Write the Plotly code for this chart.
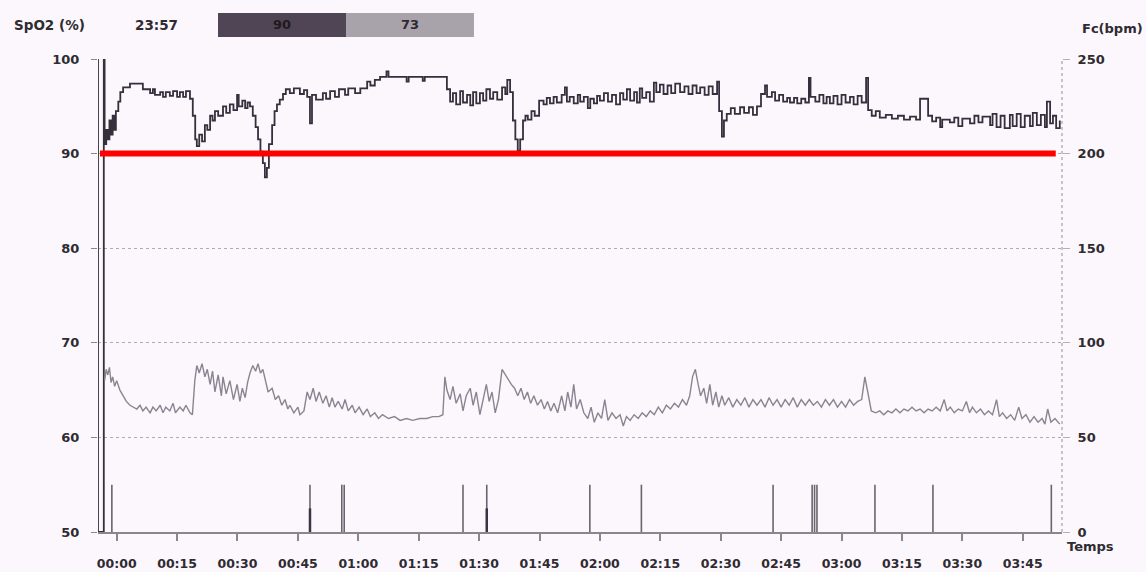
import plotly.graph_objects as go

# ---------------- data (time in minutes from 00:00) ----------------
spo2_t = [-4.64, -4.64, -3.2, -3.2, -3.0, -2.6, -2.2, -1.8, -1.4, -1.0, -0.6, -0.2, 0.4, 0.9, 1.6, 3.3, 5.8, 6.5,
          8.3, 9.0, 9.5, 10.8, 11.5, 12.2, 13.2, 14.0, 15.0, 15.7, 16.5, 17.2, 18.2, 18.9, 19.5, 19.9, 20.5, 21.2,
          21.9, 22.5, 23.2, 23.8, 24.4, 25.2, 26.4, 27.2, 28.1, 29.0, 29.9, 30.3, 31.2, 31.9, 32.5, 33.1, 33.8,
          34.5, 35.1, 35.7, 36.3, 36.8, 37.3, 37.8, 38.6, 39.2, 39.8, 40.5, 41.3, 42.0, 43.0, 44.0, 45.5, 46.5,
          47.3, 48.0, 48.5, 49.5, 51.2, 52.0, 53.0, 54.2, 55.2, 56.7, 57.5, 59.2, 60.5, 62.2, 63.0, 64.1, 65.4,
          67.0, 67.5, 70.4, 72.0, 72.5, 75.3, 76.0, 76.5, 81.0, 82.0, 82.8, 83.5, 84.3, 85.3, 86.0, 87.0, 87.8,
          88.5, 89.3, 90.2, 91.0, 91.8, 92.7, 93.5, 94.5, 95.7, 96.5, 97.0, 97.7, 98.4, 99.0, 99.6, 100.2, 100.9,
          101.5, 102.1, 103.0, 103.8, 104.9, 106.0, 106.8, 107.6, 108.5, 109.3, 110.5, 111.3, 111.8, 112.5, 113.5,
          114.5, 115.1, 116.0, 117.0, 117.6, 118.5, 119.3, 120.0, 121.0, 122.0, 123.0, 124.0, 125.0, 125.8, 126.7,
          127.5, 128.5, 129.2, 129.9, 130.5, 131.5, 132.4, 133.4, 134.0, 134.9, 135.8, 136.8, 137.7, 138.7, 139.9,
          141.0, 142.0, 143.0, 144.0, 144.9, 146.0, 147.0, 148.0, 149.1, 149.6, 150.3, 150.8, 151.5, 152.5, 153.5,
          154.8, 155.8, 157.0, 158.0, 159.0, 160.0, 161.0, 161.5, 162.7, 163.5, 164.5, 165.5, 166.5, 167.2, 168.2,
          169.0, 170.0, 171.0, 171.9, 172.3, 173.5, 174.5, 175.5, 176.3, 177.1, 178.0, 179.0, 180.0, 181.0, 182.1,
          183.0, 184.0, 185.0, 186.1, 186.6, 187.5, 188.5, 189.5, 191.0, 192.5, 194.0, 195.5, 197.0, 198.5, 199.5,
          201.5, 202.5, 203.5, 204.5, 205.0, 206.9, 208.0, 209.0, 210.0, 211.9, 213.0, 214.0, 215.0, 216.9, 217.5,
          218.5, 219.5, 220.5, 221.8, 222.5, 223.5, 224.5, 225.5, 226.8, 227.5, 228.5, 229.5, 230.5, 231.0, 231.8,
          232.5, 233.3, 234.2]
spo2_v = [100, 50, 50, 100, 91, 92.5, 91.5, 93.5, 92, 94, 92.5, 94.5, 95.5, 96.5, 97, 97.4, 97.4, 96.8,
          96.4, 96.8, 96.2, 96.5, 96.0, 96.5, 96.1, 96.6, 96.0, 96.5, 96.0, 96.6, 95.8, 94.0, 91.5, 90.8, 92.0, 91.3,
          93.0, 92.5, 94.0, 93.5, 94.5, 94.0, 95.0, 94.3, 95.2, 94.6, 96.2, 95.0, 95.6, 94.8, 95.4, 95.0, 94.0,
          92.8, 91.5, 90.2, 89.0, 87.5, 88.5, 91.0, 93.0, 94.5, 95.2, 95.7, 96.3, 96.8, 96.4, 96.9, 96.3, 96.7,
          96.0, 93.2, 96.2, 95.7, 96.4, 95.8, 96.6, 96.0, 96.8, 96.2, 96.9, 96.4, 96.9, 97.6, 97.2, 97.8, 98.1,
          98.7, 98.1, 98.1, 97.6, 98.1, 98.1, 97.7, 98.1, 98.1, 96.8, 95.5, 96.4, 95.2, 96.6, 95.4, 96.2, 95.1,
          96.5, 95.3, 96.4, 95.6, 96.8, 95.8, 96.5, 95.7, 97.0, 96.3, 97.8, 96.5, 93.5, 91.5, 90.3, 91.5, 93.5,
          94.0, 93.6, 94.5, 94.0, 95.6, 95.2, 95.9, 95.3, 96.0, 95.4, 96.2, 97.0, 95.5, 96.0, 95.3,
          96.2, 95.5, 96.0, 94.8, 95.8, 95.3, 96.1, 95.6, 96.4, 95.5, 96.2, 95.2, 96.4, 95.7, 96.8,
          95.6, 96.5, 95.4, 96.9, 95.9, 96.5, 95.5, 97.5, 96.5, 97.3, 96.3, 97.2, 96.4, 97.4, 96.5,
          97.1, 96.3, 97.2, 96.4, 97.0, 96.2, 97.1, 96.3, 97.6, 94.5, 91.8, 93.5, 94.2, 94.8, 94.2,
          94.9, 94.3, 94.9, 94.1, 95.0, 96.3, 97.2, 96.0, 96.5, 95.6, 96.2, 95.5, 95.9, 95.4, 95.9,
          95.3, 95.8, 95.4, 98.0, 96.0, 95.5, 96.2, 95.3, 96.0, 95.3, 96.1, 95.2, 96.2, 95.4, 96.0,
          95.2, 96.1, 95.4, 98.0, 94.6, 94.0, 94.5, 93.8, 94.1, 93.7, 94.0, 93.6, 93.9, 93.6, 95.8,
          94.0, 93.4, 93.8, 92.8, 93.6, 93.3, 93.8, 92.9, 93.7, 93.2, 94.0, 93.3, 93.9, 93.0, 94.2,
          92.8, 94.0, 92.7, 94.1, 92.9, 94.2, 92.8, 94.0, 92.9, 94.3, 93.0, 94.1, 92.8, 95.5, 93.2,
          94.0, 92.7, 93.5]

hr_t = [-3.0, -2.6, -2.2, -1.8, -1.4, -1.0, -0.5, 0.0, 0.8, 1.6, 2.4, 3.3, 4.0, 5.0, 5.8, 6.5, 7.3, 8.3, 9.0,
        9.8, 10.8, 11.5, 12.2, 13.2, 14.0, 14.6, 15.7, 16.5, 17.2, 18.2, 18.8, 19.4, 19.9, 20.5, 21.2, 21.9,
        22.5, 23.2, 23.8, 24.4, 25.2, 26.0, 26.4, 27.2, 28.1, 29.0, 29.9, 30.6, 31.2, 31.9, 32.5, 33.1, 33.8,
        34.5, 35.1, 35.7, 36.3, 37.0, 37.6, 38.6, 39.4, 40.2, 41.0, 41.8, 42.5, 43.0, 44.0, 45.0, 45.5, 46.5,
        47.3, 48.0, 48.8, 49.5, 50.3, 51.2, 52.0, 52.8, 53.5, 54.2, 55.0, 56.0, 56.7, 57.5, 58.5, 59.2, 60.2,
        61.2, 62.2, 63.0, 64.1, 65.0, 66.0, 67.5, 69.0, 70.4, 72.0, 73.5, 75.3, 77.0, 78.5, 80.0, 81.0, 81.5,
        82.0, 82.8, 83.5, 84.3, 85.3, 86.0, 86.8, 87.8, 88.5, 89.3, 90.2, 91.0, 91.8, 92.5, 93.2, 94.0, 94.8,
        95.7, 96.5, 97.3, 98.0, 98.8, 99.6, 100.4, 101.2, 102.0, 102.8, 103.6, 104.5, 105.4, 106.2, 107.0,
        107.8, 108.6, 109.5, 110.5, 111.3, 112.0, 112.8, 113.5, 114.2, 115.1, 116.0, 117.0, 117.8, 118.6,
        119.5, 120.4, 121.2, 122.0, 123.0, 124.0, 125.0, 125.8, 126.6, 127.5, 128.5, 129.5, 130.5, 131.5,
        132.5, 133.5, 134.5, 135.5, 136.5, 137.5, 138.5, 139.5, 140.5, 141.5, 142.3, 143.0, 143.7, 144.4,
        145.0, 145.8, 146.5, 147.3, 148.0, 148.8, 149.5, 150.3, 151.0, 152.0, 153.0, 154.0, 155.0, 156.0,
        157.0, 158.0, 159.0, 160.0, 161.0, 162.0, 163.0, 164.0, 165.0, 166.0, 167.0, 168.0, 169.0, 170.0,
        171.0, 172.0, 173.0, 174.0, 175.0, 176.0, 177.0, 178.0, 179.0, 180.0, 181.0, 182.0, 183.0, 184.0,
        185.0, 185.8, 186.6, 187.4, 188.5, 189.5, 190.5, 191.5, 192.5, 193.5, 194.5, 195.5, 196.5, 197.5,
        198.5, 199.5, 200.5, 201.5, 202.5, 203.5, 204.5, 205.5, 206.2, 207.0, 208.0, 209.0, 210.0, 211.0,
        211.8, 212.5, 213.5, 214.5, 215.5, 216.5, 217.5, 218.5, 219.2, 220.0, 221.0, 222.0, 223.0, 224.0,
        224.8, 225.8, 226.8, 227.8, 228.8, 229.8, 230.5, 231.2, 232.0, 233.0, 234.2]
hr_v = [80, 86, 83, 87, 79, 82, 77, 80, 75, 72, 69, 67, 66, 65, 67, 64, 66, 63, 66,
        64, 67, 63, 66, 64, 68, 63, 66, 64, 67, 63, 62, 80, 88, 84, 89, 82,
        86, 78, 85, 74, 83, 72, 82, 73, 80, 70, 78, 69, 76, 71, 79, 84, 88,
        85, 89, 84, 86, 79, 74, 76, 70, 72, 67, 70, 65, 67, 63, 66, 62, 64,
        74, 70, 76, 69, 74, 68, 72, 66, 71, 66, 69, 65, 70, 64, 67, 63, 66,
        62, 65, 61, 63, 60, 62, 60, 61, 59, 60, 59, 60, 60, 61, 61, 62, 82,
        75, 70, 77, 68, 73, 64, 72, 76, 67, 74, 62, 70, 78, 69, 74, 63, 70,
        86, 83, 80, 78, 76, 72, 76, 70, 74, 68, 72, 67, 70, 65, 69,
        64, 68, 63, 72, 64, 74, 66, 78, 65, 70, 63, 60, 66, 58,
        63, 60, 70, 59, 63, 60, 62, 56, 61, 59, 62, 60, 63, 61,
        64, 62, 66, 63, 67, 65, 68, 66, 70, 67, 72, 82, 86, 78,
        72, 76, 68, 78, 67, 74, 66, 72, 67, 71, 66, 70, 67, 71,
        66, 70, 67, 70, 66, 71, 67, 70, 66, 70, 67, 71, 66, 70,
        67, 70, 67, 69, 66, 70, 67, 70, 66, 69, 66, 70, 67, 69,
        70, 82, 72, 64, 63, 64, 62, 64, 63, 65, 63, 65, 64, 66,
        64, 65, 63, 65, 64, 66, 64, 70, 64, 66, 63, 65, 64, 69,
        63, 66, 63, 65, 62, 64, 62, 70, 61, 63, 60, 62, 59, 66,
        60, 62, 58, 61, 58, 60, 57, 65, 58, 60, 57]

event_times = [-1.2, 48.0, 55.9, 56.5, 86.0, 91.9, 117.5, 130.3, 163.0, 172.7, 173.3, 173.9, 188.3, 202.7, 232.1]
event_levels = [55.0, 55.0, 55.0, 55.0, 55.0, 55.0, 55.0, 55.0, 55.0, 55.0, 55.0, 55.0, 55.0, 55.0, 55.0]
event_strong_times = [48.0, 91.9]
event_strong_levels = [52.5, 52.5]

threshold_level = 90
threshold_span = [-4.15, 233.2]

tick_minutes = [0, 15, 30, 45, 60, 75, 90, 105, 120, 135, 150, 165, 180, 195, 210, 225]
tick_labels = ["00:00", "00:15", "00:30", "00:45", "01:00", "01:15", "01:30", "01:45",
               "02:00", "02:15", "02:30", "02:45", "03:00", "03:15", "03:30", "03:45"]
spo2_ticks = [50, 60, 70, 80, 90, 100]
hr_ticks = [0, 50, 100, 150, 200, 250]

header_start = "23:57"
header_spo2 = "90"
header_hr = "73"

# ---------------- figure ----------------
BG = "#fcf7fc"
TXT = "#2e2b31"
FONT = "DejaVu Sans"

fig = go.Figure()

ev_x, ev_y = [], []
for t, lv in zip(event_times, event_levels):
    ev_x += [t, t, None]
    ev_y += [50, lv, None]
fig.add_trace(go.Scatter(x=ev_x, y=ev_y, mode="lines", line=dict(color="#6a6470", width=1.6),
                         hoverinfo="skip", showlegend=False))
es_x, es_y = [], []
for t, lv in zip(event_strong_times, event_strong_levels):
    es_x += [t, t, None]
    es_y += [50, lv, None]
fig.add_trace(go.Scatter(x=es_x, y=es_y, mode="lines", line=dict(color="#3c3444", width=2.5),
                         hoverinfo="skip", showlegend=False))

fig.add_trace(go.Scatter(x=hr_t, y=hr_v, yaxis="y2", mode="lines",
                         line=dict(color="#8a8492", width=1.4), showlegend=False))

fig.add_trace(go.Scatter(x=spo2_t, y=spo2_v, mode="lines", line_shape="hv",
                         line=dict(color="#362f3d", width=1.8), showlegend=False))

fig.add_trace(go.Scatter(x=threshold_span, y=[threshold_level, threshold_level], mode="lines",
                         line=dict(color="#ff0000", width=6), showlegend=False))

fig.update_layout(
    width=1146, height=572,
    margin=dict(l=98, r=84, t=59, b=40, autoexpand=False),
    paper_bgcolor=BG, plot_bgcolor=BG,
    font=dict(family=FONT, size=12, color=TXT),
    showlegend=False,
    xaxis=dict(range=[-4.64, 234.75], tickvals=tick_minutes,
               ticktext=["<b>%s</b>" % s for s in tick_labels],
               tickfont=dict(size=12.5, color=TXT),
               showgrid=False, zeroline=False, automargin=False,
               showline=True, linecolor="#8a868e", linewidth=2,
               ticks="outside", ticklen=7, tickwidth=1.5, tickcolor="#8a868e",
               ticklabelstandoff=12),
    yaxis=dict(range=[50, 100], tickvals=spo2_ticks,
               ticktext=["<b>%d</b>" % v for v in spo2_ticks],
               tickfont=dict(size=13, color=TXT), automargin=False,
               showgrid=True, gridcolor="#b0abb3", griddash="dot", gridwidth=1,
               zeroline=False, showline=False,
               ticks="outside", ticklen=6, tickcolor="#8a868e", ticklabelstandoff=9),
    yaxis2=dict(range=[0, 250], overlaying="y", side="right", tickvals=hr_ticks,
                ticktext=["<b>%d</b>" % v for v in hr_ticks],
                tickfont=dict(size=13, color=TXT), automargin=False,
                showgrid=False, zeroline=False, showline=False,
                ticks="outside", ticklen=7, tickcolor="#b5b0b8", ticklabelstandoff=5),
)

# right frame (dotted)
fig.add_shape(type="line", xref="paper", yref="paper", x0=1, x1=1, y0=0, y1=1,
              line=dict(color="#b5b0b8", width=1.5, dash="dot"))

# header boxes
fig.add_shape(type="rect", xref="paper", yref="paper", x0=0.1245, x1=0.2573, y0=1.0465, y1=1.097,
              fillcolor="#4f4555", line=dict(width=0), layer="above")
fig.add_shape(type="rect", xref="paper", yref="paper", x0=0.2573, x1=0.390, y0=1.0465, y1=1.097,
              fillcolor="#a8a2ab", line=dict(width=0), layer="above")

ann = [
    dict(text="<b>SpO2 (%)</b>", x=-0.0892, y=1.0719, xanchor="left", size=13.5),
    dict(text="<b>" + header_start + "</b>", x=0.0363, y=1.0719, xanchor="left", size=13.5),
    dict(text="<b>" + header_spo2 + "</b>", x=0.191, y=1.0719, xanchor="center", color="#1e1a22", size=13),
    dict(text="<b>" + header_hr + "</b>", x=0.3237, y=1.0719, xanchor="center", color="#2e2a32", size=13),
    dict(text="<b>Fc(bpm)</b>", x=1.0187, y=1.0655, xanchor="left", size=13),
    dict(text="<b>Temps</b>", x=1.0031, y=-0.031, xanchor="left", size=13),
]
for a in ann:
    fig.add_annotation(text=a["text"], xref="paper", yref="paper", x=a["x"], y=a["y"],
                       xanchor=a["xanchor"], yanchor="middle", showarrow=False,
                       font=dict(family=FONT, size=a["size"], color=a.get("color", TXT)))

fig.write_html("out.html")
